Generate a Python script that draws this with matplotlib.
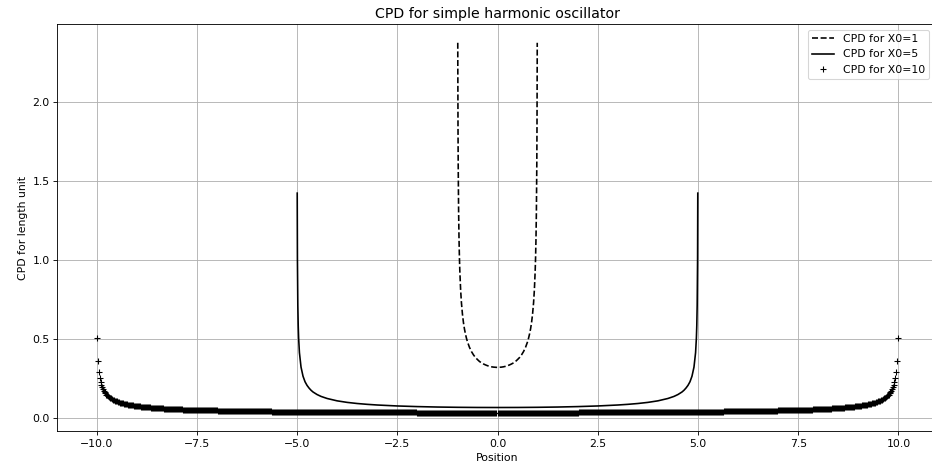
import matplotlib
matplotlib.use("Agg")
import matplotlib.pyplot as plt
import numpy as np

# CPD curve for X0=1 (dashed)
x_1 = [-0.991, -0.99, -0.985, -0.98, -0.97, -0.96, -0.95, -0.94, -0.92, -0.9,
       -0.875, -0.85, -0.825, -0.8, -0.775, -0.75, -0.7, -0.65, -0.6, -0.55,
       -0.5, -0.45, -0.4, -0.35, -0.3, -0.25, -0.2, -0.15, -0.1, -0.05,
       0.0,
       0.05, 0.1, 0.15, 0.2, 0.25, 0.3, 0.35, 0.4, 0.45, 0.5,
       0.55, 0.6, 0.65, 0.7, 0.75, 0.775, 0.8, 0.825, 0.85, 0.875,
       0.9, 0.92, 0.94, 0.95, 0.96, 0.97, 0.98, 0.985, 0.99, 0.991]
y_1 = [2.378, 2.256, 1.845, 1.600, 1.309, 1.137, 1.019, 0.933, 0.812, 0.730,
       0.658, 0.604, 0.563, 0.531, 0.504, 0.481, 0.446, 0.419, 0.398, 0.381,
       0.368, 0.356, 0.347, 0.340, 0.334, 0.329, 0.325, 0.322, 0.320, 0.319,
       0.318,
       0.319, 0.320, 0.322, 0.325, 0.329, 0.334, 0.340, 0.347, 0.356, 0.368,
       0.381, 0.398, 0.419, 0.446, 0.481, 0.504, 0.531, 0.563, 0.604, 0.658,
       0.730, 0.812, 0.933, 1.019, 1.137, 1.309, 1.600, 1.845, 2.256, 2.378]

# CPD curve for X0=5 (solid)
x_5 = [-4.995, -4.99, -4.98, -4.97, -4.96, -4.94, -4.9, -4.85, -4.8, -4.75,
       -4.7, -4.65, -4.6, -4.5, -4.4, -4.25, -4.0, -3.75, -3.5, -3.25,
       -3.0, -2.5, -2.0, -1.5, -1.0, -0.5,
       0.0,
       0.5, 1.0, 1.5, 2.0, 2.5, 3.0, 3.25, 3.5, 3.75, 4.0,
       4.25, 4.4, 4.5, 4.6, 4.65, 4.7, 4.75, 4.8, 4.85, 4.9,
       4.94, 4.96, 4.97, 4.98, 4.99, 4.995]
y_5 = [1.424, 1.007, 0.712, 0.582, 0.504, 0.412, 0.320, 0.262, 0.227, 0.204,
       0.187, 0.173, 0.162, 0.146, 0.134, 0.121, 0.106, 0.0962, 0.0891, 0.0838,
       0.0796, 0.0735, 0.0695, 0.0667, 0.0650, 0.0640,
       0.0637,
       0.0640, 0.0650, 0.0667, 0.0695, 0.0735, 0.0796, 0.0838, 0.0891, 0.0962, 0.106,
       0.121, 0.134, 0.146, 0.162, 0.173, 0.187, 0.204, 0.227, 0.262, 0.320,
       0.412, 0.504, 0.582, 0.712, 1.007, 1.424]

# CPD samples for X0=10 (plus markers), right half; the curve is symmetric
x_10 = [
    0.000, 0.025, 0.050, 0.075, 0.100, 0.125, 0.150, 0.175, 0.200, 0.225,
    0.250, 0.275, 0.300, 0.325, 0.350, 0.375, 0.400, 0.425, 0.450, 0.475,
    0.500, 0.525, 0.550, 0.575, 0.600, 0.625, 0.650, 0.675, 0.700, 0.725,
    0.750, 0.775, 0.800, 0.825, 0.850, 0.875, 0.900, 0.925, 0.950, 0.975,
    1.000, 1.025, 1.050, 1.075, 1.100, 1.125, 1.150, 1.175, 1.200, 1.225,
    1.250, 1.275, 1.300, 1.325, 1.350, 1.375, 1.400, 1.425, 1.450, 1.475,
    1.500, 1.525, 1.550, 1.575, 1.600, 1.625, 1.650, 1.675, 1.700, 1.725,
    1.750, 1.775, 1.800, 1.825, 1.850, 1.875, 1.900, 1.925, 1.950, 1.975,
    2.000, 2.025, 2.050, 2.075, 2.100, 2.125, 2.150, 2.175, 2.200, 2.225,
    2.250, 2.275, 2.300, 2.325, 2.350, 2.375, 2.400, 2.425, 2.450, 2.475,
    2.500, 2.525, 2.550, 2.575, 2.600, 2.625, 2.650, 2.675, 2.700, 2.725,
    2.750, 2.775, 2.800, 2.825, 2.850, 2.875, 2.900, 2.925, 2.950, 2.975,
    3.000, 3.025, 3.050, 3.075, 3.100, 3.125, 3.150, 3.175, 3.200, 3.225,
    3.250, 3.275, 3.300, 3.325, 3.350, 3.375, 3.400, 3.425, 3.450, 3.475,
    3.500, 3.525, 3.550, 3.575, 3.600, 3.625, 3.650, 3.675, 3.700, 3.725,
    3.750, 3.775, 3.800, 3.825, 3.850, 3.875, 3.900, 3.925, 3.950, 3.975,
    4.000, 4.025, 4.050, 4.075, 4.100, 4.125, 4.150, 4.175, 4.200, 4.225,
    4.250, 4.275, 4.300, 4.325, 4.350, 4.375, 4.400, 4.425, 4.450, 4.475,
    4.500, 4.525, 4.550, 4.575, 4.600, 4.625, 4.650, 4.675, 4.700, 4.725,
    4.750, 4.775, 4.800, 4.825, 4.850, 4.875, 4.900, 4.925, 4.950, 4.975,
    5.000, 5.025, 5.050, 5.075, 5.100, 5.125, 5.150, 5.175, 5.200, 5.225,
    5.250, 5.275, 5.300, 5.325, 5.350, 5.375, 5.400, 5.425, 5.450, 5.475,
    5.500, 5.525, 5.550, 5.575, 5.600, 5.625, 5.650, 5.675, 5.700, 5.725,
    5.750, 5.775, 5.800, 5.825, 5.850, 5.875, 5.900, 5.925, 5.950, 5.975,
    6.000, 6.025, 6.050, 6.075, 6.100, 6.125, 6.150, 6.175, 6.200, 6.225,
    6.250, 6.275, 6.300, 6.325, 6.350, 6.375, 6.400, 6.425, 6.450, 6.475,
    6.500, 6.525, 6.550, 6.575, 6.600, 6.625, 6.650, 6.675, 6.700, 6.725,
    6.750, 6.775, 6.800, 6.825, 6.850, 6.875, 6.900, 6.925, 6.950, 6.975,
    7.000, 7.025, 7.050, 7.075, 7.100, 7.125, 7.150, 7.175, 7.200, 7.225,
    7.250, 7.275, 7.300, 7.325, 7.350, 7.375, 7.400, 7.425, 7.450, 7.475,
    7.500, 7.525, 7.550, 7.575, 7.600, 7.625, 7.650, 7.675, 7.700, 7.725,
    7.750, 7.775, 7.800, 7.825, 7.850, 7.875, 7.900, 7.925, 7.950, 7.975,
    8.000, 8.025, 8.050, 8.075, 8.100, 8.125, 8.150, 8.175, 8.200, 8.225,
    8.250, 8.275, 8.300, 8.325, 8.350, 8.375, 8.400, 8.425, 8.450, 8.475,
    8.500, 8.525, 8.550, 8.575, 8.600, 8.625, 8.650, 8.675, 8.700, 8.725,
    8.750, 8.775, 8.800, 8.825, 8.850, 8.875, 8.900, 8.925, 8.950, 8.975,
    9.000, 9.025, 9.050, 9.075, 9.100, 9.125, 9.150, 9.175, 9.200, 9.225,
    9.250, 9.275, 9.300, 9.325, 9.350, 9.375, 9.400, 9.425, 9.450, 9.475,
    9.500, 9.525, 9.550, 9.575, 9.600, 9.625, 9.650, 9.675, 9.700, 9.725,
    9.74, 9.76, 9.78, 9.80, 9.82, 9.84, 9.86, 9.88, 9.90, 9.92, 9.94, 9.96, 9.98,
]
y_10 = [
    0.032, 0.032, 0.032, 0.032, 0.032, 0.032, 0.032, 0.032, 0.032, 0.032,
    0.032, 0.032, 0.032, 0.032, 0.032, 0.032, 0.032, 0.032, 0.032, 0.032,
    0.032, 0.032, 0.032, 0.032, 0.032, 0.032, 0.032, 0.032, 0.032, 0.032,
    0.032, 0.032, 0.032, 0.032, 0.032, 0.032, 0.032, 0.032, 0.032, 0.032,
    0.032, 0.032, 0.032, 0.032, 0.032, 0.032, 0.032, 0.032, 0.032, 0.032,
    0.032, 0.032, 0.032, 0.032, 0.032, 0.032, 0.032, 0.032, 0.032, 0.032,
    0.032, 0.032, 0.032, 0.032, 0.032, 0.032, 0.032, 0.032, 0.032, 0.032,
    0.032, 0.032, 0.032, 0.032, 0.032, 0.032, 0.032, 0.032, 0.032, 0.032,
    0.032, 0.033, 0.033, 0.033, 0.033, 0.033, 0.033, 0.033, 0.033, 0.033,
    0.033, 0.033, 0.033, 0.033, 0.033, 0.033, 0.033, 0.033, 0.033, 0.033,
    0.033, 0.033, 0.033, 0.033, 0.033, 0.033, 0.033, 0.033, 0.033, 0.033,
    0.033, 0.033, 0.033, 0.033, 0.033, 0.033, 0.033, 0.033, 0.033, 0.033,
    0.033, 0.033, 0.033, 0.033, 0.033, 0.034, 0.034, 0.034, 0.034, 0.034,
    0.034, 0.034, 0.034, 0.034, 0.034, 0.034, 0.034, 0.034, 0.034, 0.034,
    0.034, 0.034, 0.034, 0.034, 0.034, 0.034, 0.034, 0.034, 0.034, 0.034,
    0.034, 0.034, 0.034, 0.034, 0.034, 0.035, 0.035, 0.035, 0.035, 0.035,
    0.035, 0.035, 0.035, 0.035, 0.035, 0.035, 0.035, 0.035, 0.035, 0.035,
    0.035, 0.035, 0.035, 0.035, 0.035, 0.035, 0.035, 0.035, 0.036, 0.036,
    0.036, 0.036, 0.036, 0.036, 0.036, 0.036, 0.036, 0.036, 0.036, 0.036,
    0.036, 0.036, 0.036, 0.036, 0.036, 0.036, 0.037, 0.037, 0.037, 0.037,
    0.037, 0.037, 0.037, 0.037, 0.037, 0.037, 0.037, 0.037, 0.037, 0.037,
    0.037, 0.037, 0.038, 0.038, 0.038, 0.038, 0.038, 0.038, 0.038, 0.038,
    0.038, 0.038, 0.038, 0.038, 0.038, 0.038, 0.039, 0.039, 0.039, 0.039,
    0.039, 0.039, 0.039, 0.039, 0.039, 0.039, 0.039, 0.040, 0.040, 0.040,
    0.040, 0.040, 0.040, 0.040, 0.040, 0.040, 0.040, 0.040, 0.041, 0.041,
    0.041, 0.041, 0.041, 0.041, 0.041, 0.041, 0.041, 0.042, 0.042, 0.042,
    0.042, 0.042, 0.042, 0.042, 0.042, 0.042, 0.043, 0.043, 0.043, 0.043,
    0.043, 0.043, 0.043, 0.044, 0.044, 0.044, 0.044, 0.044, 0.044, 0.044,
    0.045, 0.045, 0.045, 0.045, 0.045, 0.045, 0.046, 0.046, 0.046, 0.046,
    0.046, 0.046, 0.047, 0.047, 0.047, 0.047, 0.047, 0.048, 0.048, 0.048,
    0.048, 0.048, 0.049, 0.049, 0.049, 0.049, 0.049, 0.050, 0.050, 0.050,
    0.050, 0.051, 0.051, 0.051, 0.051, 0.052, 0.052, 0.052, 0.052, 0.053,
    0.053, 0.053, 0.054, 0.054, 0.054, 0.055, 0.055, 0.055, 0.056, 0.056,
    0.056, 0.057, 0.057, 0.057, 0.058, 0.058, 0.059, 0.059, 0.060, 0.060,
    0.060, 0.061, 0.061, 0.062, 0.062, 0.063, 0.063, 0.064, 0.065, 0.065,
    0.066, 0.066, 0.067, 0.068, 0.068, 0.069, 0.070, 0.071, 0.071, 0.072,
    0.073, 0.074, 0.075, 0.076, 0.077, 0.078, 0.079, 0.080, 0.081, 0.082,
    0.084, 0.085, 0.087, 0.088, 0.090, 0.091, 0.093, 0.095, 0.097, 0.100,
    0.102, 0.105, 0.107, 0.110, 0.114, 0.117, 0.121, 0.126, 0.131, 0.137,
    0.141, 0.146, 0.153, 0.160, 0.169, 0.179, 0.191, 0.206, 0.226, 0.252, 0.291, 0.356, 0.504,
]

labels = ["CPD for X0=1", "CPD for X0=5", "CPD for X0=10"]

x10 = np.array(x_10)
y10 = np.array(y_10)
# mirror right half onto the left
x10 = np.concatenate((-x10[:0:-1], x10))
y10 = np.concatenate((y10[:0:-1], y10))

DPI = 78
fig = plt.figure(figsize=(932 / DPI, 470 / DPI), dpi=DPI)
ax = fig.add_axes([0.0615, 0.083, 0.9446, 0.8653])

ax.plot(x_1, y_1, "k--", label=labels[0])
ax.plot(x_5, y_5, "k-", label=labels[1])
ax.plot(x10, y10, "k+", label=labels[2])

ax.set_title("CPD for simple harmonic oscillator", fontsize=13)
ax.set_xlabel("Position")
ax.set_ylabel("CPD for length unit")
ax.grid(True)
ax.legend(loc="upper right", bbox_to_anchor=(0.9967, 1.0))

plt.savefig("out.png", dpi=DPI)
